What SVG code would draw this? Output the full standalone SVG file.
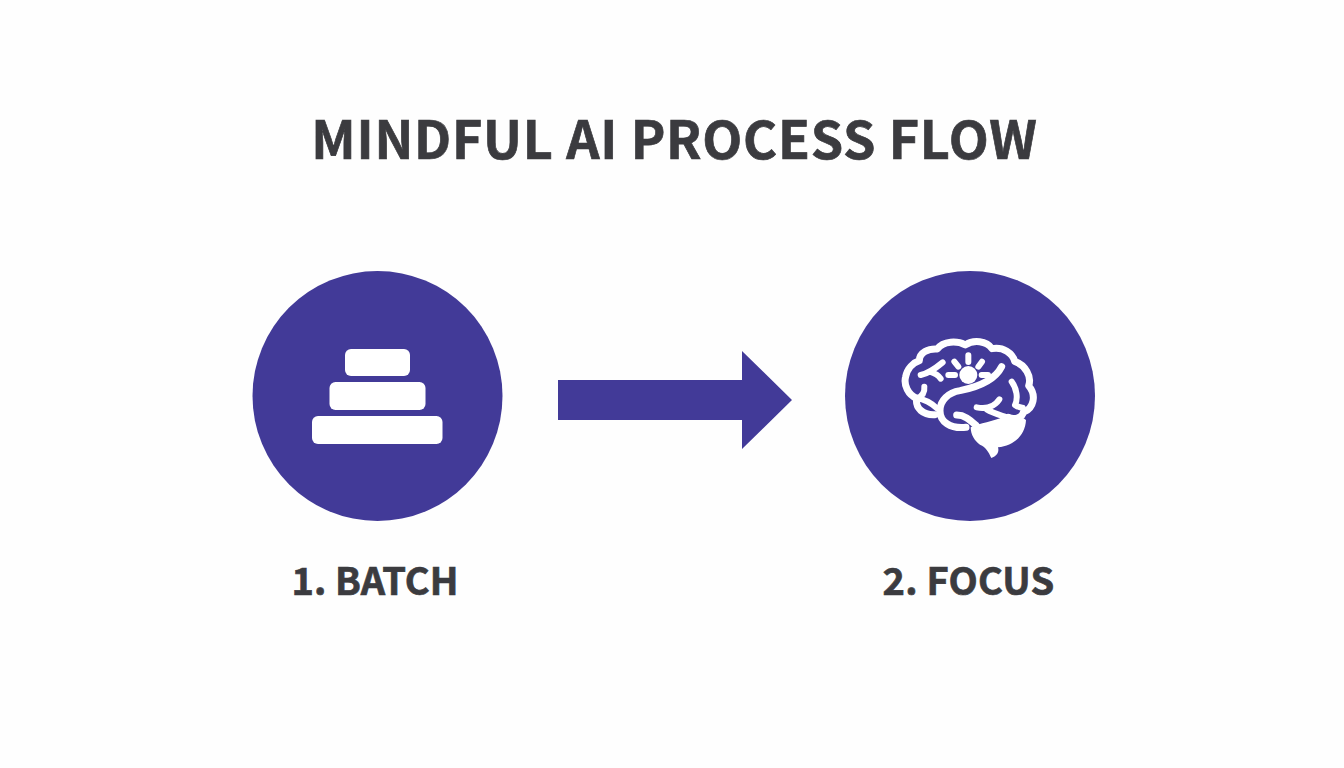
<svg xmlns="http://www.w3.org/2000/svg" width="1344" height="768" viewBox="0 0 1344 768">
<style>
.t{font-family:"Noto Sans CJK SC","Noto Sans",sans-serif;font-weight:700;fill:#3b3b3f;stroke:#3b3b3f;stroke-width:.7;text-anchor:middle}
.c{fill:#423a98}
.w{fill:#fff}
.s{fill:none;stroke:#fff;stroke-width:21;stroke-linecap:round;stroke-linejoin:round}
.s2{fill:none;stroke:#fff;stroke-width:18;stroke-linecap:round;stroke-linejoin:round}
</style>
<rect width="1344" height="768" fill="#fefefe"/>
<text class="t" x="674.500" y="159" font-size="52" letter-spacing=".75" id="title">MINDFUL AI PROCESS FLOW</text>
<g id="connectors"><polygon class="c" points="558,380 742,380 742,351 792,400 742,449 742,420 558,420"/></g>
<g id="node-batch">
<circle class="c" cx="377.500" cy="396" r="125"/>
<rect class="w" x="345" y="349" width="65" height="27" rx="6"/>
<rect class="w" x="329.500" y="382" width="96" height="28" rx="6"/>
<rect class="w" x="312" y="416" width="130.500" height="28" rx="6"/>
<text class="t" x="375" y="595" font-size="38">1. BATCH</text>
</g>
<g id="node-focus">
<circle class="c" cx="970" cy="396" r="125"/>
<g transform="translate(880 320) scale(.33333)">
<path class="s" d="M165,284C130,286 105,265 110,235C85,225 70,195 77,170C82,145 100,128 118,122C118,98 145,85 172,87C190,62 232,62 256,75C280,58 320,62 336,86C370,80 398,100 404,124C436,135 456,170 446,197C470,225 462,265 430,277C428,292 405,300 385,292"/>
<path class="s" d="M365,140C345,180 300,200 240,212C205,218 180,240 180,272C180,305 210,327 258,322"/>
<path class="s" d="M230,285C255,285 270,300 290,318"/>
<path class="s2" d="M122,165C145,160 160,150 188,127M150,155C165,160 175,165 182,176"/>
<path class="s2" d="M110,235C125,230 135,220 133,200M110,235C135,238 155,250 172,266"/>
<path class="s2" d="M290,262C320,268 345,258 358,238M320,268C340,280 360,285 380,292"/>
<path class="s2" d="M395,185C410,205 415,235 405,255C415,262 420,263 428,263"/>
<circle class="w" cx="265" cy="165" r="27"/>
<path class="s2" stroke-linecap="butt" d="M265,106V126M223,125L235,140M306,125L295,140M205,165H225M305,165H324"/>
<path class="w" d="M272,322C300,308 340,305 370,290C395,285 428,288 438,300C436,345 402,378 354,382C358,394 352,408 334,414C326,396 318,382 300,374C285,364 272,345 272,322Z"/>
</g>
<text class="t" x="968.500" y="595" font-size="38" letter-spacing=".2">2. FOCUS</text>
</g>
</svg>
